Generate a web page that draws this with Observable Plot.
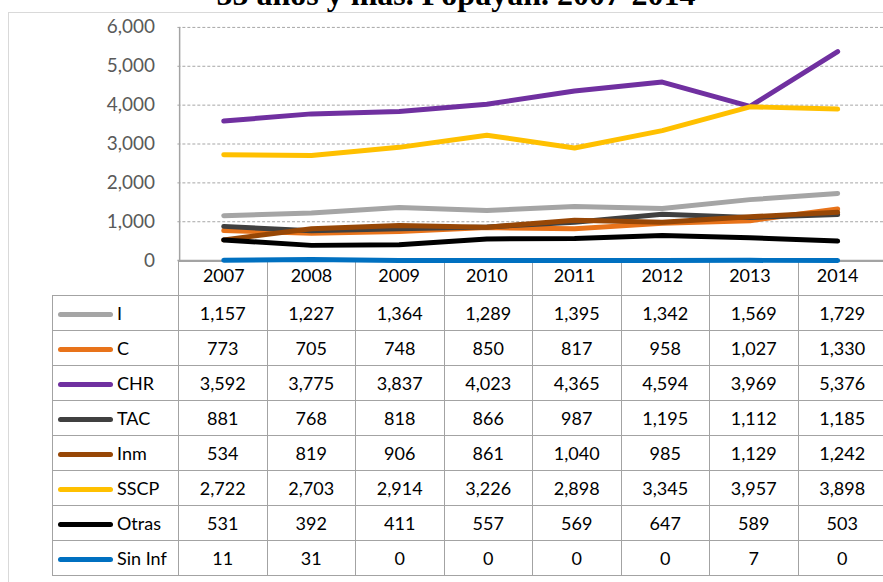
<!DOCTYPE html>
<html>
<head>
<meta charset="utf-8">
<script src="https://cdn.jsdelivr.net/npm/d3@7"></script>
<script src="https://cdn.jsdelivr.net/npm/@observablehq/plot@0.6"></script>
<style>
  html, body { margin: 0; padding: 0; background: #fff; }
  body { width: 883px; height: 582px; overflow: hidden; position: relative; font-family: Lato, "Open Sans", sans-serif; }
  #frame { position: absolute; left: 8px; top: 12px; width: 900px; height: 600px; border: 1.5px solid #d9d9d9; box-sizing: border-box; }
  #title { position: absolute; left: 0; width: 912px; top: -22px; text-align: center; font: bold 32px/32px "Liberation Serif", "DejaVu Serif", serif; color: #000; white-space: nowrap; }
  #chart { position: absolute; left: 0; top: 0; }
  table { position: absolute; left: 52px; top: 261px; border-collapse: collapse; table-layout: fixed; width: 834px; font: 18px Lato, sans-serif; color: #000; }
  td { border: 1.5px solid #a3a3a3; text-align: center; padding: 0; white-space: nowrap; }
  tr.head td { height: 33px; }
  tr.head td.blank { border-top: none; border-left: none; }
  tr.row td { height: 34px; }
  td.leg { text-align: left; padding-left: 5px; }
  .sw { display: inline-block; width: 55px; height: 5px; border-radius: 3px; vertical-align: middle; margin-right: 4px; position: relative; top: -1px; }
</style>
</head>
<body>
<div id="frame"></div>
<div id="title">55 años y más. Popayán. 2007-2014</div>
<div id="tablewrap"></div>
<div id="chart"></div>
<script>
const years = [2007, 2008, 2009, 2010, 2011, 2012, 2013, 2014];
const seriesNames = ["I", "C", "CHR", "TAC", "Inm", "SSCP", "Otras", "Sin Inf"];
const seriesColors = ["#a5a5a5", "#e8731a", "#7030a0", "#404040", "#974706", "#ffc000", "#000000", "#0070c0"];
const I = [1157, 1227, 1364, 1289, 1395, 1342, 1569, 1729];
const C = [773, 705, 748, 850, 817, 958, 1027, 1330];
const CHR = [3592, 3775, 3837, 4023, 4365, 4594, 3969, 5376];
const TAC = [881, 768, 818, 866, 987, 1195, 1112, 1185];
const Inm = [534, 819, 906, 861, 1040, 985, 1129, 1242];
const SSCP = [2722, 2703, 2914, 3226, 2898, 3345, 3957, 3898];
const Otras = [531, 392, 411, 557, 569, 647, 589, 503];
const SinInf = [11, 31, 0, 0, 0, 0, 7, 0];
const yTicks = [0, 1000, 2000, 3000, 4000, 5000, 6000];

const seriesValues = [I, C, CHR, TAC, Inm, SSCP, Otras, SinInf];
const data = [];
seriesNames.forEach((name, i) => {
  years.forEach((yr, j) => data.push({series: name, year: yr, value: seriesValues[i][j]}));
});

const fmt = d3.format(",");
const W = 886, ML = 178, MR = 0;
const step = (W - ML - MR) / years.length;

const chart = Plot.plot({
  width: W,
  height: 295,
  marginLeft: ML,
  marginRight: MR,
  marginTop: 27,
  marginBottom: 34,
  style: {fontFamily: "Lato, sans-serif", background: "transparent", overflow: "visible"},
  x: {type: "point", domain: years, padding: 0.5, axis: null},
  y: {domain: [0, 6000], axis: null},
  color: {domain: seriesNames, range: seriesColors},
  marks: [
    Plot.gridY(yTicks.filter(d => d > 0), {stroke: "#a6a6a6", strokeOpacity: 1, strokeDasharray: "3,2", strokeWidth: 1}),
    Plot.ruleY([0], {stroke: "#a3a3a3", strokeWidth: 1.5}),
    Plot.ruleX([years[0]], {dx: -step / 2, y1: 0, y2: 6000, stroke: "#a3a3a3", strokeWidth: 1.5}),
    Plot.axisY(yTicks, {anchor: "left", label: null, tickSize: 0, tickPadding: 23, tickFormat: fmt, fontSize: 19, fill: "#595959"}),
    Plot.axisX(years, {anchor: "bottom", label: null, tickSize: 0, tickPadding: 9, tickFormat: d => String(d), fontSize: 18, fill: "#000"}),
    Plot.line(data, {x: "year", y: "value", z: "series", stroke: "series", strokeWidth: 5, strokeLinecap: "round", strokeLinejoin: "round"})
  ]
});
document.getElementById("chart").appendChild(chart);

// data table below the chart
const table = document.createElement("table");
const colgroup = document.createElement("colgroup");
const c0 = document.createElement("col"); c0.style.width = "126px"; colgroup.appendChild(c0);
years.forEach(() => { const c = document.createElement("col"); c.style.width = step + "px"; colgroup.appendChild(c); });
table.appendChild(colgroup);
const head = document.createElement("tr"); head.className = "head";
const blank = document.createElement("td"); blank.className = "blank"; head.appendChild(blank);
years.forEach(() => head.appendChild(document.createElement("td")));
table.appendChild(head);
seriesNames.forEach((name, i) => {
  const tr = document.createElement("tr"); tr.className = "row";
  const leg = document.createElement("td"); leg.className = "leg";
  const sw = document.createElement("span"); sw.className = "sw"; sw.style.background = seriesColors[i];
  leg.appendChild(sw);
  leg.appendChild(document.createTextNode(name));
  tr.appendChild(leg);
  seriesValues[i].forEach(v => {
    const td = document.createElement("td"); td.textContent = fmt(v); tr.appendChild(td);
  });
  table.appendChild(tr);
});
document.getElementById("tablewrap").appendChild(table);
</script>
</body>
</html>
